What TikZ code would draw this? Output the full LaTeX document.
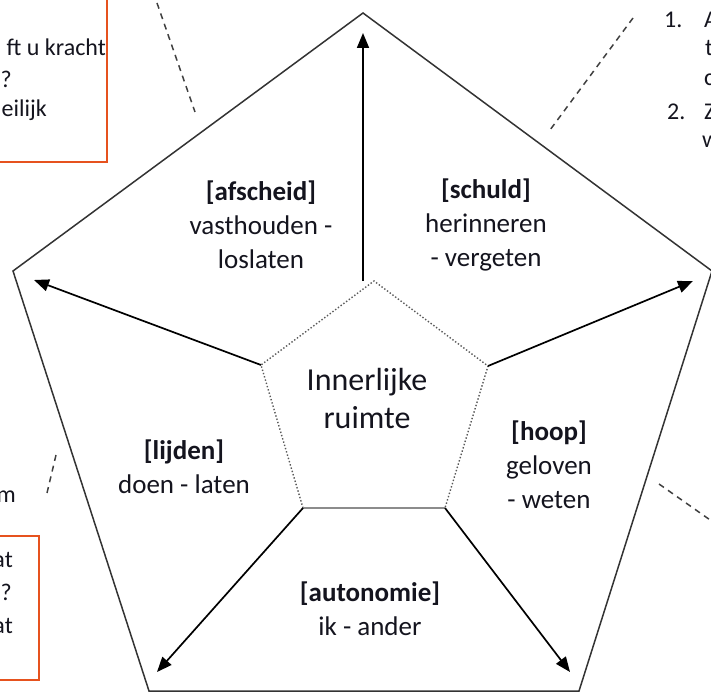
\documentclass[tikz,border=0pt]{standalone}
\usepackage{fontspec}
\setmainfont{Carlito}
\usetikzlibrary{arrows.meta}
\definecolor{boxorange}{RGB}{230,82,30}
\definecolor{txt}{RGB}{20,20,30}
\begin{document}
\begin{tikzpicture}[x=1pt,y=-1pt,
  outerline/.style={draw=black!80, line width=1.5pt, line join=miter},
  innerline/.style={draw=black!65, dotted, line width=1.4pt},
  innerbase/.style={draw=black!45, line width=1.2pt},
  arr/.style={draw=black, line width=1.7pt, -{Triangle[length=15pt,width=12pt]}},
  lbl/.style={font=\fontsize{27}{34}\selectfont, align=center, inner sep=0pt, text=txt},
  center lbl/.style={font=\fontsize{32}{38}\selectfont, align=center, inner sep=0pt, text=txt},
  side/.style={font=\fontsize{24}{31}\selectfont, inner sep=0pt, text=txt},
  dashline/.style={draw=black!75, line width=1.5pt, dash pattern=on 6pt off 5pt},
  orangebox/.style={draw=boxorange, line width=1.8pt}]
\useasboundingbox (0,0) rectangle (711,692);
\clip (0,0) rectangle (711,692);
% outer pentagon
\coordinate (O1) at (363,13);
\coordinate (O2) at (712,271);
\coordinate (O3) at (579,691);
\coordinate (O4) at (149,691);
\coordinate (O5) at (13,271);
\draw[outerline] (O1) -- (O2) -- (O3) -- (O4) -- (O5) -- cycle;
% inner pentagon
\coordinate (I1) at (374,281);
\coordinate (I2) at (488,366);
\coordinate (I3) at (445,508);
\coordinate (I4) at (303,508);
\coordinate (I5) at (261,365);
\draw[innerline] (I4) -- (I5) -- (I1) -- (I2) -- (I3);
\draw[innerbase] (I3) -- (I4);
% arrows
\coordinate (S1) at (363,281);
\coordinate (T1) at (363,33);
\coordinate (T2) at (693,281);
\coordinate (T3) at (570,672);
\coordinate (T4) at (157,672);
\coordinate (T5) at (34,280);
\draw[arr] (S1) -- (T1);
\draw[arr] (I2) -- (T2);
\draw[arr] (I3) -- (T3);
\draw[arr] (I4) -- (T4);
\draw[arr] (I5) -- (T5);
% labels
\node[lbl] (afscheid) at (261,225) {\textbf{[afscheid]}\\vasthouden -\\loslaten};
\node[lbl] (schuld) at (486,225) {\textbf{[schuld]}\\herinneren\\- vergeten};
\node[lbl] (lijden) at (184,467) {\textbf{[lijden]}\\doen - laten};
\node[lbl] (hoop) at (549,465) {\textbf{[hoop]}\\geloven\\- weten};
\node[lbl] (autonomie) at (370,609) {\textbf{[autonomie]}\\ik - ander};
\node[center lbl] (ruimte) at (367,399) {Innerlijke\\ruimte};
% dashed leader lines
\coordinate (D1a) at (157,3);   \coordinate (D1b) at (195,112);
\coordinate (D2a) at (633,18);  \coordinate (D2b) at (550,130);
\coordinate (D3a) at (56,455);  \coordinate (D3b) at (47,493);
\coordinate (D4a) at (659,484); \coordinate (D4b) at (713,522);
\draw[dashline] (D1a) -- (D1b);
\draw[dashline] (D2a) -- (D2b);
\draw[dashline] (D3a) -- (D3b);
\draw[dashline] (D4a) -- (D4b);
% partial boxes and texts at the edges
\draw[orangebox] (-5,-5) rectangle (107,162);
\node[side, anchor=east] (tl1) at (106,47) {ft u kracht};
\node[side, anchor=east] (tl2) at (12,79) {n?};
\node[side, anchor=east] (tl3) at (47,110) {eilijk};
\draw[orangebox] (-5,536) rectangle (39,680);
\node[side, anchor=east] (bl1) at (13,560) {at};
\node[side, anchor=east] (bl2) at (12,592) {n?};
\node[side, anchor=east] (bl3) at (13,626) {at};
\node[side, anchor=east] (ml1) at (16,497) {m};
\node[side, anchor=west] (tr1) at (664,20) {1.};
\node[side, anchor=west] (tr1a) at (704,20) {A};
\node[side, anchor=west] (tr2) at (705,48) {t};
\node[side, anchor=west] (tr3) at (704,80) {c};
\node[side, anchor=west] (tr4) at (667,112) {2.};
\node[side, anchor=west] (tr4a) at (704,112) {Z};
\node[side, anchor=west] (tr5) at (702,142) {w};
\end{tikzpicture}
\end{document}
